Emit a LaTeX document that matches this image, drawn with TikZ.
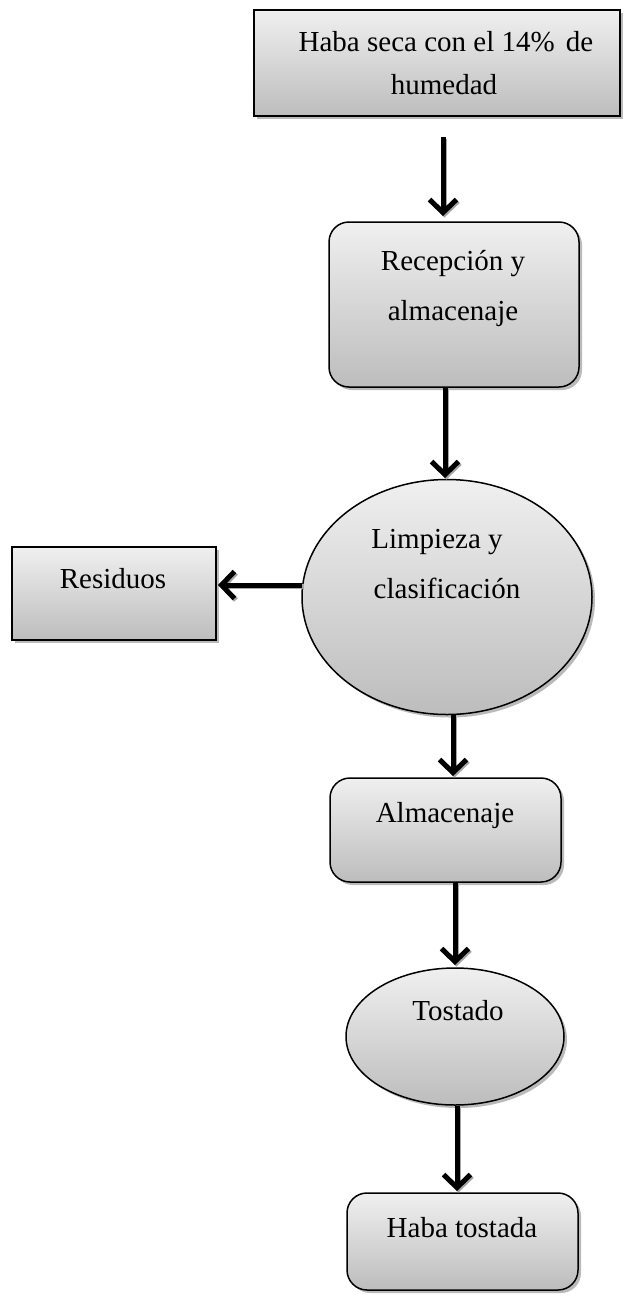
\documentclass[tikz,border=0pt]{standalone}
\usepackage{fontspec}
\setmainfont{Liberation Serif}
\usetikzlibrary{shadows,arrows.meta,shapes.geometric}
\begin{document}
\begin{tikzpicture}[x=1pt,y=1pt,
  shp/.style={draw=black, line width=1.5pt, top color=white!94!black, bottom color=white!74!black,
    drop shadow={shadow xshift=3pt, shadow yshift=-3pt, fill=black!45, opacity=0.6}, inner sep=0pt},
  sqbox/.style={shp, rectangle},
  rbox/.style={shp, rectangle, rounded corners=20pt},
  ell/.style={shp, ellipse},
  txt/.style={anchor=base, inner sep=0pt, font=\fontsize{29}{35}\selectfont},
  arr/.style={line width=5pt, -{Straight Barb[length=13pt,width=27pt]},
    preaction={draw=black!35, line width=5pt, transform canvas={shift={(1.5pt,-1.5pt)}}}}
]
\useasboundingbox (0,0) rectangle (624,-1299);

% shapes
\node[sqbox, line width=2pt, minimum width=366pt, minimum height=106pt] (top) at (437,-63) {};
\node[rbox, minimum width=250pt, minimum height=165pt] (recep) at (454,-304.5) {};
\node[ell, minimum width=290pt, minimum height=235pt] (limp) at (447,-597) {};
\node[sqbox, minimum width=204pt, minimum height=93pt] (resid) at (114,-593.5) {};
\node[rbox, minimum width=231pt, minimum height=104pt] (alm) at (445.5,-830) {};
\node[ell, minimum width=218pt, minimum height=137pt] (tost) at (455,-1036.5) {};
\node[rbox, minimum width=231pt, minimum height=97pt] (fin) at (462.5,-1241.5) {};

% texts
\node[txt] (t1a) at (446,-51) {Haba seca con el 14\%\hspace{4pt} de};
\node[txt] (t1b) at (444,-94) {humedad};
\node[txt] (t2a) at (453,-270) {Recepción y};
\node[txt] (t2b) at (453,-320) {almacenaje};
\node[txt] (t3a) at (437,-548) {Limpieza y};
\node[txt] (t3b) at (447,-598) {clasificación};
\node[txt] (t4) at (113,-588) {Residuos};
\node[txt] (t5) at (445,-822) {Almacenaje};
\node[txt] (t6) at (458,-1020) {Tostado};
\node[txt] (t7) at (462,-1237) {Haba tostada};

% arrow endpoints
\coordinate (a1s) at (443,-137); \coordinate (a1e) at (443,-216);
\coordinate (a2s) at (445,-387); \coordinate (a2e) at (445,-478);
\coordinate (a3s) at (302,-585); \coordinate (a3e) at (218,-585);
\coordinate (a4s) at (453,-715); \coordinate (a4e) at (453,-776);
\coordinate (a5s) at (455,-882); \coordinate (a5e) at (455,-965);
\coordinate (a6s) at (457,-1106); \coordinate (a6e) at (457,-1191);

\draw[arr] (a1s) -- (a1e);
\draw[arr] (a2s) -- (a2e);
\draw[arr] (a3s) -- (a3e);
\draw[arr] (a4s) -- (a4e);
\draw[arr] (a5s) -- (a5e);
\draw[arr] (a6s) -- (a6e);
\end{tikzpicture}
\end{document}
